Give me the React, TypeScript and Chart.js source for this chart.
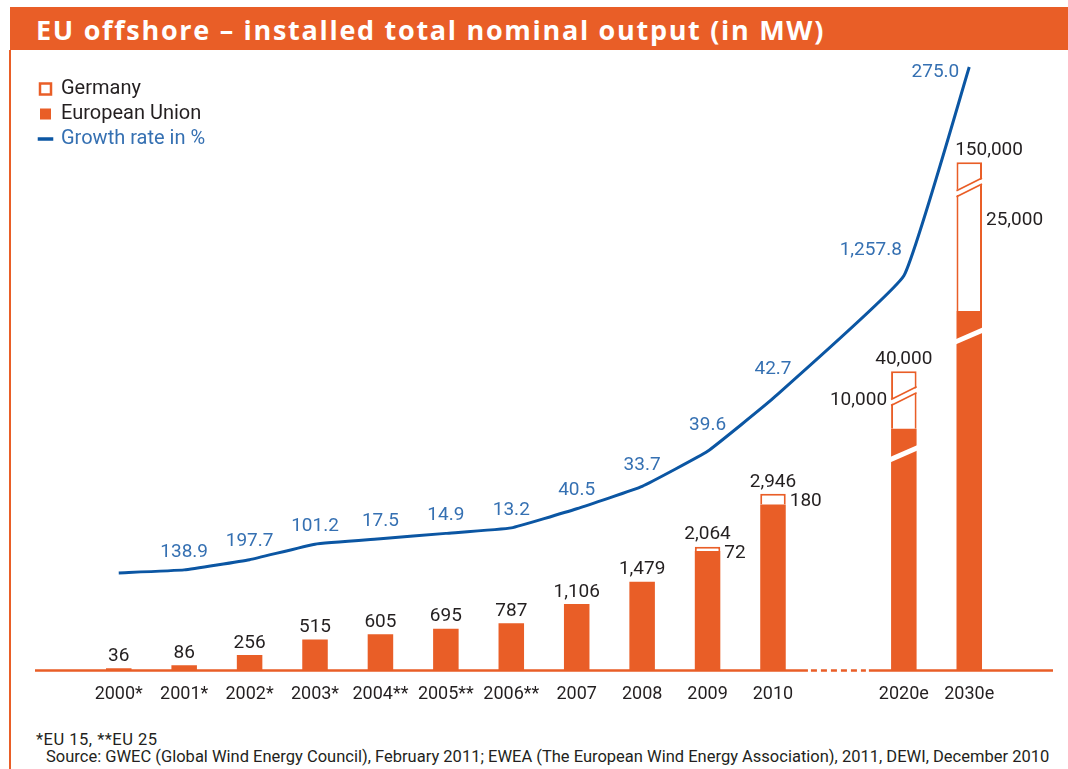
import React, { useEffect, useRef } from 'react';
import { Chart, registerables, LinearScale } from 'chart.js';

// ---------- data ----------
const categories = ['2000*', '2001*', '2002*', '2003*', '2004**', '2005**', '2006**', '2007', '2008', '2009', '2010', '', '2020e', '2030e'];
// total EU offshore capacity (MW), including Germany
const euTotal = [36, 86, 256, 515, 605, 695, 787, 1106, 1479, 2064, 2946, null, 40000, 150000];
// German share (MW)
const germany = [null, null, null, null, null, null, null, null, null, 72, 180, null, 10000, 25000];
// growth rate in %
const growthRate = [null, 138.9, 197.7, 101.2, 17.5, 14.9, 13.2, 40.5, 33.7, 39.6, 42.7, null, 1257.8, 275.0];

// The graphic uses a broken value axis: linear up to 3,000 MW, compressed above.
// Knots: [value in MW, position on the axis in drawing units]
const axisBreaks: [number, number][] = [[0, 0], [3000, 3000], [30000, 4032], [40000, 4992], [125000, 5997], [150000, 8476]];

// ---------- styles ----------
const ORANGE = '#E95E27';
const BLUE_LINE = '#0B56A3';
const BLUE_TEXT = '#3570B2';
const INK = '#231F20';
const NUM_FONT = "Roboto, 'Open Sans', sans-serif";
const TEXT_FONT = "Roboto, 'Open Sans', sans-serif";
const Y_MAX = 9950;
const LINE_LIFT = 1591;

class BrokenLinearScale extends LinearScale {
  static id = 'brokenLinear';
  static defaults = LinearScale.defaults;
  toAxis(v: any) {
    const br = (this.options as any).axisBreaks as [number, number][];
    if (v === null || v === undefined || isNaN(v) || !br) return v;
    for (let i = 1; i < br.length; i++) {
      if (v <= br[i][0] || i === br.length - 1) {
        const [a0, b0] = br[i - 1];
        const [a1, b1] = br[i];
        return b0 + (v - a0) * (b1 - b0) / (a1 - a0);
      }
    }
    return v;
  }
  fromAxis(u: number) {
    const br = (this.options as any).axisBreaks as [number, number][];
    if (!br) return u;
    for (let i = 1; i < br.length; i++) {
      if (u <= br[i][1] || i === br.length - 1) {
        const [a0, b0] = br[i - 1];
        const [a1, b1] = br[i];
        return a0 + (u - b0) * (a1 - a0) / (b1 - b0);
      }
    }
    return u;
  }
  getPixelForValue(value: any, index?: number) {
    return super.getPixelForValue(this.toAxis(value), index);
  }
  getValueForPixel(pixel: number) {
    return this.fromAxis(super.getValueForPixel(pixel) as number);
  }
}

Chart.register(...registerables, BrokenLinearScale as any);

const fmtInt = (v: number) => v.toLocaleString('en-US');
const fmtRate = (v: number) => v.toLocaleString('en-US', { minimumFractionDigits: 1, maximumFractionDigits: 1 });

const annotatePlugin = {
  id: 'annotate',
  beforeDatasetsDraw(chart: any) {
    const { ctx, chartArea, scales } = chart;
    const x = scales.x;
    const y0 = scales.y.getPixelForValue(0);
    const gap = euTotal.findIndex((v) => v === null);
    const gx0 = x.getPixelForValue(gap - 0.42);
    const gx1 = x.getPixelForValue(gap + 0.42);
    ctx.save();
    ctx.strokeStyle = ORANGE;
    ctx.lineWidth = 2.5;
    ctx.beginPath();
    ctx.moveTo(chartArea.left, y0);
    ctx.lineTo(gx0 - 3, y0);
    ctx.moveTo(gx1 + 3, y0);
    ctx.lineTo(chartArea.right, y0);
    ctx.stroke();
    ctx.setLineDash([6, 4]);
    ctx.beginPath();
    ctx.moveTo(gx0, y0);
    ctx.lineTo(gx1, y0);
    ctx.stroke();
    ctx.restore();
  },
  afterDatasetsDraw(chart: any) {
    const { ctx } = chart;
    const fillMeta = chart.getDatasetMeta(0);
    const deMeta = chart.getDatasetMeta(1);
    const lineMeta = chart.getDatasetMeta(2);
    const threshold = axisBreaks[1][0];
    const pts: { x: number; y: number; i: number }[] = [];
    lineMeta.data.forEach((p: any, i: number) => {
      if (euTotal[i] !== null && isFinite(p.y)) pts.push({ x: p.x, y: p.y, i });
    });
    const lineXAtY = (yy: number) => {
      const xs: number[] = [];
      for (let k = 0; k < pts.length - 1; k++) {
        const a = pts[k], b = pts[k + 1];
        if ((yy - a.y) * (yy - b.y) <= 0 && a.y !== b.y) xs.push(a.x + (yy - a.y) * (b.x - a.x) / (b.y - a.y));
      }
      return xs;
    };

    ctx.save();
    // scale breaks on bars above the linear part of the axis
    const drawBreak = (el: any, hollow: boolean) => {
      const { x, y, base, width } = el.getProps(['x', 'y', 'base', 'width'], true);
      const top = Math.min(y, base), bottom = Math.max(y, base);
      const h = bottom - top;
      const cy = top + Math.min(h / 2, 25);
      const rise = width * 0.25;
      const l = x - width / 2, r = x + width / 2;
      ctx.save();
      ctx.beginPath();
      ctx.rect(l - 1, top, width + 2, h);
      ctx.clip();
      ctx.strokeStyle = '#ffffff';
      ctx.lineWidth = 5;
      ctx.beginPath();
      ctx.moveTo(l - 2, cy + rise);
      ctx.lineTo(r + 2, cy - rise);
      ctx.stroke();
      if (hollow) {
        ctx.strokeStyle = ORANGE;
        ctx.lineWidth = 1.6;
        [-3, 3].forEach((d) => {
          ctx.beginPath();
          ctx.moveTo(l, cy + rise + d);
          ctx.lineTo(r, cy - rise + d);
          ctx.stroke();
        });
      }
      ctx.restore();
    };
    euTotal.forEach((t, i) => {
      if (t === null || t <= threshold) return;
      drawBreak(fillMeta.data[i], false);
      if (germany[i] !== null) drawBreak(deMeta.data[i], true);
    });

    // total labels
    ctx.font = `19px ${NUM_FONT}`;
    ctx.textBaseline = 'middle';
    ctx.fillStyle = INK;
    euTotal.forEach((t, i) => {
      if (t === null) return;
      const el = germany[i] !== null ? deMeta.data[i] : fillMeta.data[i];
      const txt = fmtInt(t);
      const w = ctx.measureText(txt).width;
      const cy = el.y - 12;
      let cx = el.x;
      lineXAtY(cy).forEach((lx) => {
        if (lx > cx - w / 2 - 8 && lx < cx + w / 2 + 8) cx = lx + 12 + w / 2;
      });
      ctx.textAlign = 'center';
      ctx.fillText(txt, cx, cy);
    });

    // German share labels
    germany.forEach((g, i) => {
      if (g === null) return;
      const el = deMeta.data[i];
      const top = Math.min(el.y, el.base), bottom = Math.max(el.y, el.base);
      const cy = top + Math.max(7, Math.min((bottom - top) / 2, 58));
      const txt = fmtInt(g);
      const w = ctx.measureText(txt).width;
      const rightX = el.x + el.width / 2 + 4;
      let next: any = null;
      for (let j = i + 1; j < euTotal.length; j++) {
        if (euTotal[j] !== null) { next = fillMeta.data[j]; break; }
      }
      if (next && next.x - next.width / 2 < rightX + w + 2) {
        ctx.textAlign = 'right';
        ctx.fillText(txt, el.x - el.width / 2 - 4, cy);
      } else {
        ctx.textAlign = 'left';
        ctx.fillText(txt, rightX, cy);
      }
    });

    // growth rate labels
    ctx.fillStyle = BLUE_TEXT;
    pts.forEach((p, k) => {
      const g = growthRate[p.i];
      if (g === null) return;
      const txt = fmtRate(g);
      const w = ctx.measureText(txt).width;
      const q = pts[k + 1];
      const steep = !q || Math.abs((q.y - p.y) / (q.x - p.x)) > 2;
      if (steep) {
        ctx.textAlign = 'right';
        ctx.fillText(txt, p.x - (q ? 2 : 10), q ? p.y - 26 : p.y + 5);
      } else {
        const yAtRight = p.y + (q.y - p.y) * (w / 2) / (q.x - p.x);
        const cy = Math.min(p.y - 18, yAtRight - 11.5);
        ctx.textAlign = 'center';
        ctx.fillText(txt, p.x, cy);
      }
    });
    ctx.restore();
  },
};

export default function App() {
  const canvasRef = useRef<HTMLCanvasElement | null>(null);

  useEffect(() => {
    const xy = (arr: (number | null)[]) => arr.map((v, i) => ({ x: i, y: v }));
    const fillPart = euTotal.map((t, i) => (t === null ? null : t - (germany[i] ?? 0)));
    const chart = new Chart(canvasRef.current as HTMLCanvasElement, {
      type: 'bar',
      data: {
        datasets: [
          {
            label: 'European Union',
            data: xy(fillPart) as any,
            backgroundColor: ORANGE,
            borderWidth: 0,
            barPercentage: 0.39,
            categoryPercentage: 1,
            yAxisID: 'y',
          },
          {
            label: 'Germany',
            data: xy(germany) as any,
            backgroundColor: '#ffffff',
            borderColor: ORANGE,
            borderWidth: 2,
            barPercentage: 0.39,
            categoryPercentage: 1,
            yAxisID: 'y',
          },
          {
            type: 'line',
            label: 'Growth rate in %',
            data: xy(euTotal) as any,
            yAxisID: 'y2',
            borderColor: BLUE_LINE,
            borderWidth: 3,
            pointRadius: 0,
            tension: 0.1,
            spanGaps: true,
            clip: false as any,
          } as any,
        ],
      },
      options: {
        animation: false,
        responsive: true,
        maintainAspectRatio: false,
        layout: { padding: { left: 35, right: 15, top: 74, bottom: 2 } },
        scales: {
          x: {
            type: 'linear',
            offset: false,
            min: -1.28,
            max: 14.28,
            stacked: true,
            grid: { display: false, drawTicks: false, offset: false },
            border: { display: false },
            ticks: {
              stepSize: 1,
              autoSkip: false,
              includeBounds: false,
              maxRotation: 0,
              padding: 13,
              color: INK,
              font: { family: NUM_FONT, size: 18 },
              callback: (v: any) => categories[v as number] ?? '',
            },
          },
          y: {
            type: 'brokenLinear' as any,
            display: false,
            stacked: true,
            min: 0,
            max: Y_MAX,
            axisBreaks,
          } as any,
          y2: {
            type: 'brokenLinear' as any,
            display: false,
            min: -LINE_LIFT,
            max: Y_MAX - LINE_LIFT,
            axisBreaks,
          } as any,
        },
        plugins: {
          tooltip: { enabled: false },
          legend: {
            position: 'chartArea' as any,
            align: 'start',
            title: { display: true, text: ' ', padding: { top: 50, bottom: 0 }, font: { size: 20 } },
            labels: {
              usePointStyle: true,
              boxWidth: 11,
              boxHeight: 11,
              padding: 5,
              font: { family: TEXT_FONT, size: 20 },
              generateLabels: () => [
                { text: 'Germany', fillStyle: '#ffffff', strokeStyle: ORANGE, lineWidth: 2.5, pointStyle: 'rect', fontColor: INK, datasetIndex: 1, hidden: false },
                { text: 'European Union', fillStyle: ORANGE, strokeStyle: ORANGE, lineWidth: 0, pointStyle: 'rect', fontColor: INK, datasetIndex: 0, hidden: false },
                { text: 'Growth rate in %', fillStyle: BLUE_LINE, strokeStyle: BLUE_LINE, lineWidth: 3.5, pointStyle: 'line', fontColor: BLUE_TEXT, datasetIndex: 2, hidden: false },
              ] as any,
            },
          },
        },
      },
      plugins: [annotatePlugin],
    });
    return () => chart.destroy();
  }, []);

  return (
    <div style={{ position: 'absolute', left: 0, top: 0, width: 1068, height: 769, background: '#ffffff', overflow: 'hidden' }}>
      <div style={{ position: 'absolute', left: 10, top: 7, width: 1058, height: 43, background: ORANGE }} />
      <div
        style={{
          position: 'absolute', left: 36, top: 7, height: 43, lineHeight: '45px', color: '#ffffff',
          fontFamily: "'Open Sans', Roboto, sans-serif", fontWeight: 700, fontSize: 27, letterSpacing: 1.7, whiteSpace: 'nowrap',
        }}
      >
        EU offshore – installed total nominal output (in MW)
      </div>
      <div style={{ position: 'absolute', left: 9, top: 50, width: 2, height: 719, background: ORANGE }} />
      <div style={{ position: 'absolute', left: 0, top: 0, width: 1068, height: 720 }}>
        <canvas ref={canvasRef} />
      </div>
      <div style={{ position: 'absolute', left: 36, top: 732, fontFamily: TEXT_FONT, fontSize: 16.5, lineHeight: '16.5px', letterSpacing: 0.5, color: INK, whiteSpace: 'nowrap' }}>
        *EU 15, **EU 25
      </div>
      <div style={{ position: 'absolute', left: 46, top: 748.5, fontFamily: TEXT_FONT, fontSize: 16.5, lineHeight: '16.5px', color: INK, whiteSpace: 'nowrap' }}>
        Source: GWEC (Global Wind Energy Council), February 2011; EWEA (The European Wind Energy Association), 2011, DEWI, December 2010
      </div>
    </div>
  );
}
